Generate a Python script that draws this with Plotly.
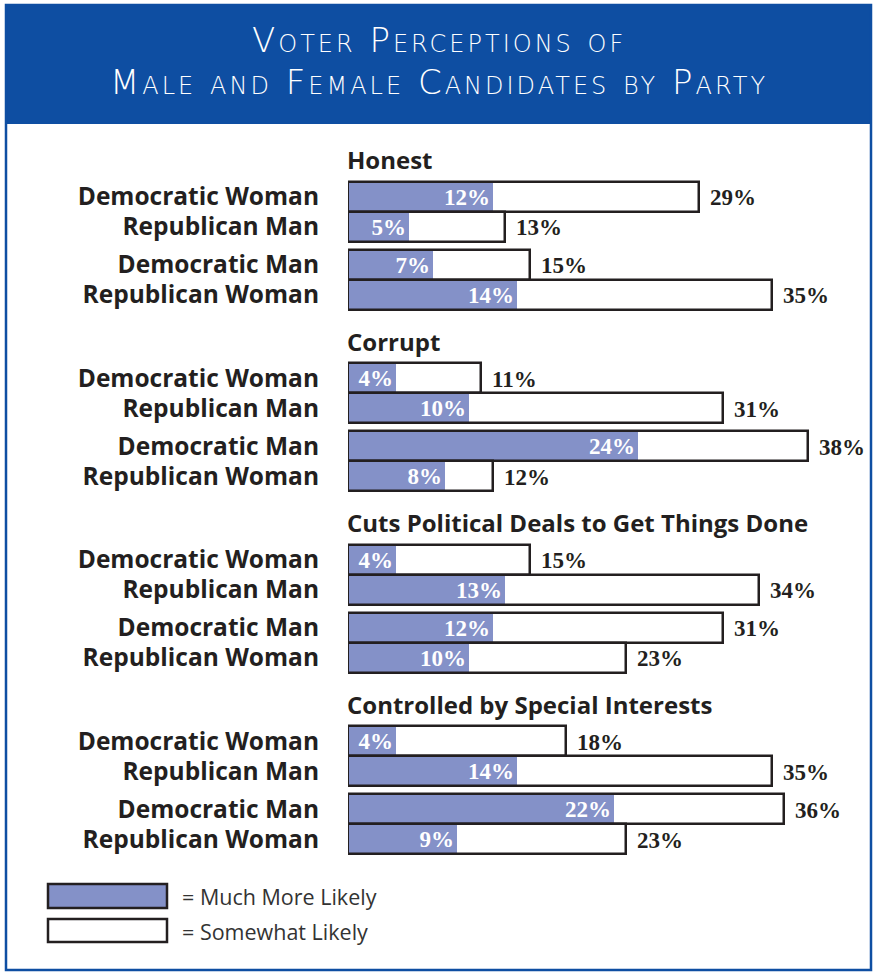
import plotly.graph_objects as go

W, H = 877, 973

# ---------------- data ----------------
groups = ["Honest", "Corrupt", "Cuts Political Deals to Get Things Done",
          "Controlled by Special Interests"]
candidates = ["Democratic Woman", "Republican Man", "Democratic Man", "Republican Woman"]
much_likely = [[12, 5, 7, 14],
               [4, 10, 24, 8],
               [4, 13, 12, 10],
               [4, 14, 22, 9]]
total_likely = [[29, 13, 15, 35],
                [11, 31, 38, 12],
                [15, 34, 31, 23],
                [18, 35, 36, 23]]
legend_labels = ["= Much More Likely", "= Somewhat Likely"]
title_lines = ["Voter Perceptions of", "Male and Female Candidates by Party"]

# ---------------- styling / layout constants ----------------
PURPLE = "#8491c8"
DARK = "#231f20"
BLUE = "#0e4ea2"
first_row = 196.8
group_step = 181.5
row_offsets = [0, 30, 68, 98]
header_offset = -37
bar_px = 30
x_start_px = 348
px_per_pct = 12.1
x_max = 40

ys, xs_much, xs_total, labels = [], [], [], []
for g in range(len(groups)):
    for r in range(len(candidates)):
        ys.append(first_row + group_step * g + row_offsets[r])
        xs_much.append(much_likely[g][r])
        xs_total.append(total_likely[g][r])
        labels.append(candidates[r])

fig = go.Figure()
fig.add_trace(go.Bar(
    orientation="h", x=xs_much, y=ys, width=bar_px,
    marker=dict(color=PURPLE, line=dict(width=0)),
    text=[f"{v}%" for v in xs_much], textposition="inside",
    insidetextanchor="end", constraintext="none",
    textfont=dict(family="Liberation Serif", size=23, color="white", weight="bold"),
    hoverinfo="skip", showlegend=False,
))
fig.add_trace(go.Bar(
    orientation="h", x=xs_total, y=ys, width=bar_px,
    marker=dict(color="rgba(0,0,0,0)", line=dict(width=2.5, color=DARK)),
    hoverinfo="skip", showlegend=False,
))

annotations = []
for x, y in zip(xs_total, ys):
    annotations.append(dict(x=x, y=y, xref="x", yref="y", text=f"{x}%",
                            showarrow=False, xanchor="left", yanchor="middle",
                            xshift=9, yshift=-1,
                            font=dict(family="Liberation Serif", size=23, color=DARK, weight="bold")))
for g, name in enumerate(groups):
    annotations.append(dict(x=0, y=first_row + group_step * g + header_offset,
                            xref="x", yref="y", text=name, showarrow=False,
                            xanchor="left", yanchor="middle", xshift=-3,
                            font=dict(family="Open Sans", size=24, color=DARK, weight="bold")))

def px(xp):
    return xp / W

def py(yp):
    return 1 - yp / H

title_y = [40, 82]
for t, yy in zip(title_lines, title_y):
    annotations.append(dict(x=0.5, y=py(yy), xref="paper", yref="paper",
                            text=f'<span style="letter-spacing:3px">{t}</span>',
                            showarrow=False, xanchor="center", yanchor="middle",
                            font=dict(family="DejaVu Sans", size=34, color="white",
                                      weight=200, variant="small-caps")))

legend_y = [896, 931]
for t, yy in zip(legend_labels, legend_y):
    annotations.append(dict(x=px(180), y=py(yy), xref="paper", yref="paper", text=t,
                            showarrow=False, xanchor="left", yanchor="middle",
                            font=dict(family="Open Sans", size=21.5, color="#333333")))

shapes = [
    dict(type="rect", xref="paper", yref="paper", x0=px(6), x1=px(871), y0=py(124), y1=py(5),
         fillcolor=BLUE, line=dict(width=0), layer="below"),
    dict(type="rect", xref="paper", yref="paper", x0=px(6), x1=px(871), y0=py(970), y1=py(5),
         fillcolor="rgba(0,0,0,0)", line=dict(width=2.5, color=BLUE)),
    dict(type="rect", xref="paper", yref="paper", x0=px(48), x1=px(167), y0=py(908), y1=py(884),
         fillcolor=PURPLE, line=dict(width=2.5, color=DARK)),
    dict(type="rect", xref="paper", yref="paper", x0=px(48), x1=px(167), y0=py(942), y1=py(919),
         fillcolor="white", line=dict(width=2.5, color=DARK)),
]

fig.update_layout(
    width=W, height=H, margin=dict(l=0, r=0, t=0, b=0),
    paper_bgcolor="white", plot_bgcolor="rgba(0,0,0,0)",
    barmode="overlay", bargap=0,
    annotations=annotations, shapes=shapes,
    xaxis=dict(domain=[x_start_px / W, (x_start_px + x_max * px_per_pct) / W],
               range=[0, x_max], visible=False, fixedrange=True),
    yaxis=dict(domain=[0, 1], range=[H, 0], tickvals=ys, ticktext=labels,
               showgrid=False, zeroline=False, showline=False, ticks="",
               ticklabelstandoff=28,
               tickfont=dict(family="Open Sans", size=24.5, color=DARK, weight="bold"),
               fixedrange=True),
)

fig.write_html("out.html")
